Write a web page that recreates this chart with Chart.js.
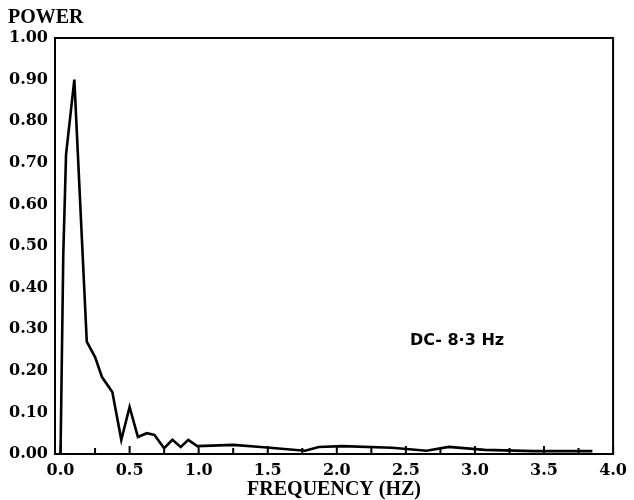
<!DOCTYPE html>
<html>
<head>
<meta charset="utf-8">
<script src="https://cdn.jsdelivr.net/npm/chart.js@4/dist/chart.umd.min.js"></script>
<style>
html,body{margin:0;padding:0;background:#fff;}
#wrap{width:634px;height:500px;}
</style>
</head>
<body>
<div id="wrap"><canvas id="c" width="634" height="500"></canvas></div>
<script>
// ---- data ----
const frequency = [0.000, 0.020, 0.040, 0.100, 0.190, 0.250, 0.300, 0.375, 0.440, 0.500,
                   0.560, 0.625, 0.680, 0.750, 0.810, 0.870, 0.925, 0.990, 1.250, 1.450,
                   1.770, 1.870, 2.040, 2.400, 2.650, 2.810, 3.070, 3.430, 3.850];
const power     = [0.000, 0.480, 0.720, 0.900, 0.270, 0.233, 0.185, 0.149, 0.034, 0.113,
                   0.041, 0.050, 0.046, 0.014, 0.034, 0.017, 0.034, 0.019, 0.022, 0.017,
                   0.008, 0.017, 0.019, 0.015, 0.008, 0.017, 0.010, 0.007, 0.007];
const xTickValues = [0, 0.25, 0.5, 0.75, 1.0, 1.25, 1.5, 1.75, 2.0, 2.25, 2.5, 2.75, 3.0, 3.25, 3.5, 3.75, 4.0];
const yTickValues = [0, 0.1, 0.2, 0.3, 0.4, 0.5, 0.6, 0.7, 0.8, 0.9, 1.0];
const yTitle = 'POWER';
const xTitle = 'FREQUENCY (HZ)';
const noteText = 'DC- 8\u00B73 Hz';
const notePos = {x: 2.87, y: 0.272};

const points = frequency.map((f, i) => ({x: f, y: power[i]}));

const framePlugin = {
  id: 'frame',
  afterDatasetsDraw(chart) {
    const {ctx, chartArea: a, scales} = chart;
    ctx.save();
    ctx.strokeStyle = '#000';
    ctx.lineWidth = 2;
    ctx.strokeRect(a.left, a.top, a.right - a.left, a.bottom - a.top);
    // inward tick marks on x axis
    ctx.lineWidth = 2;
    xTickValues.forEach(v => {
      const px = scales.x.getPixelForValue(v);
      const major = Math.abs(v * 2 - Math.round(v * 2)) < 1e-6;
      const len = major ? 8 : 6;
      ctx.beginPath();
      ctx.moveTo(px, a.bottom);
      ctx.lineTo(px, a.bottom - len);
      ctx.stroke();
    });
    // annotation
    ctx.fillStyle = '#000';
    ctx.font = '600 16px "DejaVu Sans"';
    ctx.textAlign = 'center';
    ctx.textBaseline = 'middle';
    ctx.fillText(noteText, scales.x.getPixelForValue(notePos.x), scales.y.getPixelForValue(notePos.y));
    ctx.restore();
  }
};

new Chart(document.getElementById('c'), {
  type: 'line',
  data: {
    datasets: [{
      data: points,
      borderColor: '#000',
      borderWidth: 2.6,
      pointRadius: 0,
      tension: 0,
      fill: false
    }]
  },
  options: {
    responsive: false,
    animation: false,
    layout: {autoPadding: false, padding: {left: 8, right: 12, top: 0, bottom: 0}},
    plugins: {
      legend: {display: false},
      tooltip: {enabled: false},
      title: {
        display: true,
        text: yTitle,
        align: 'start',
        color: '#000',
        font: {family: '"Liberation Serif"', size: 20, weight: 'bold', lineHeight: 1.2},
        padding: {top: 6, bottom: 8}
      }
    },
    scales: {
      x: {
        type: 'linear',
        min: -0.04,
        max: 4.0,
        afterBuildTicks(s) { s.ticks = xTickValues.map(v => ({value: v})); },
        afterFit(s) { s.height = 46; },
        grid: {display: false, drawTicks: false},
        border: {display: false},
        ticks: {
          color: '#000',
          padding: 7,
          maxRotation: 0,
          autoSkip: false,
          font: {family: '"DejaVu Serif"', size: 16, weight: 'bold'},
          callback(v) {
            return Math.abs(v * 2 - Math.round(v * 2)) < 1e-6 ? Number(v).toFixed(1) : '';
          }
        },
        title: {
          display: true,
          text: xTitle,
          color: '#000',
          font: {family: '"Liberation Serif"', size: 20, weight: 'bold', lineHeight: 1.0},
          padding: {top: 0, bottom: 0}
        }
      },
      y: {
        type: 'linear',
        min: 0,
        max: 1,
        afterBuildTicks(s) { s.ticks = yTickValues.map(v => ({value: v})); },
        afterFit(s) { s.width = 47; },
        grid: {display: false, drawTicks: false},
        border: {display: false},
        ticks: {
          color: '#000',
          padding: 7,
          font: {family: '"DejaVu Serif"', size: 16, weight: 'bold'},
          callback(v) { return Number(v).toFixed(2); }
        }
      }
    }
  },
  plugins: [framePlugin]
});
</script>
</body>
</html>
